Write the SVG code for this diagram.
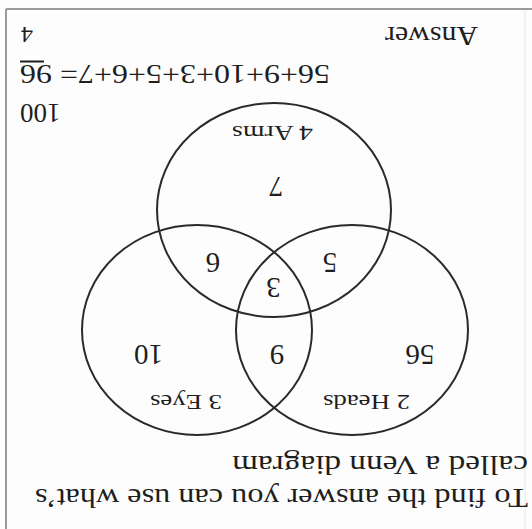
<svg xmlns="http://www.w3.org/2000/svg" width="532" height="529" viewBox="0 0 532 529">
<style>
.t{font-family:"Liberation Serif","Times New Roman",serif;fill:#1e1e1e;}
.c{fill:none;stroke:#2a2a2a;stroke-width:2;}
.num{font-size:29px;text-anchor:middle;}
.lab{font-size:21px;}
</style>
<rect x="0" y="0" width="532" height="529" fill="#fdfdfd"/>
<g id="border" stroke-width="2" fill="none">
<line x1="6" y1="9" x2="532" y2="9" stroke="#9a9a9a"/>
<line x1="6" y1="9" x2="6" y2="529" stroke="#9a9a9a"/>
<line x1="525" y1="10" x2="525" y2="529" stroke="#e6e6e6" stroke-width="1"/>
</g>
<g id="page" transform="rotate(180 266 264.5)">
<g id="intro">
<text class="t" x="4" y="40" font-size="28" textLength="493" lengthAdjust="spacingAndGlyphs">To find the answer you can use what’s</text>
<text class="t" x="4" y="73" font-size="28" textLength="296" lengthAdjust="spacingAndGlyphs">called a Venn diagram</text>
</g>
<g id="heads">
<ellipse class="c" cx="180" cy="199" rx="116" ry="105"/>
<text class="t lab" x="122" y="134" textLength="87" lengthAdjust="spacingAndGlyphs">2 Heads</text>
<text class="t num" x="112" y="184">56</text>
</g>
<g id="eyes">
<ellipse class="c" cx="335" cy="199" rx="115" ry="105"/>
<text class="t lab" x="310" y="134" textLength="72" lengthAdjust="spacingAndGlyphs">3 Eyes</text>
<text class="t num" x="383.5" y="184">10</text>
</g>
<g id="arms">
<ellipse class="c" cx="258" cy="319" rx="117" ry="107"/>
<text class="t lab" x="219" y="403" textLength="81" lengthAdjust="spacingAndGlyphs">4 Arms</text>
<text class="t num" x="256" y="352">7</text>
</g>
<g id="overlaps">
<text class="t num" x="255" y="184">9</text>
<text class="t num" x="319" y="276">6</text>
<text class="t num" x="202" y="276">5</text>
<text class="t num" x="258.5" y="251">3</text>
</g>
<g id="sum">
<text class="t" x="512" y="425" font-size="27" text-anchor="end">100</text>
<text class="t" x="202" y="464" font-size="27" textLength="310" lengthAdjust="spacingAndGlyphs">56+9+10+3+5+6+7= 96</text>
<line x1="488" y1="467.5" x2="512" y2="467.5" stroke="#1e1e1e" stroke-width="2"/>
<text class="t" x="54" y="502" font-size="27" textLength="93" lengthAdjust="spacingAndGlyphs">Answer</text>
<text class="t" x="511" y="502" font-size="24" text-anchor="end">4</text>
</g>
<g id="connectors"/>
</g>
</svg>
